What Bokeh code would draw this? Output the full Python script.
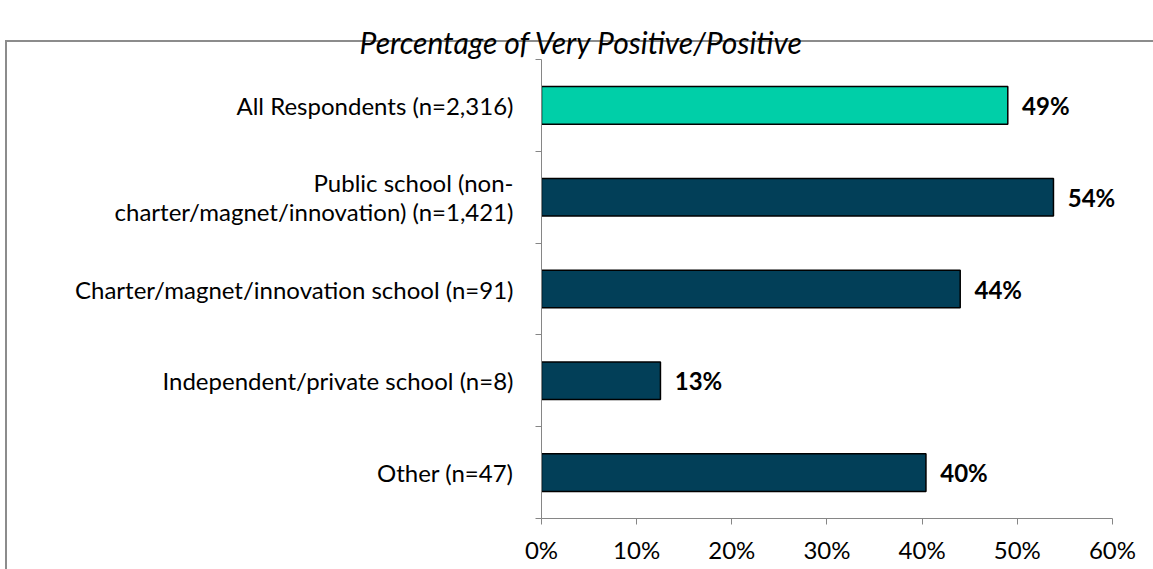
from bokeh.plotting import figure
from bokeh.models import FixedTicker, PrintfTickFormatter, ColumnDataSource, Range1d, Title, LinearAxis
from bokeh.embed import file_html
from bokeh.resources import INLINE
from bokeh.core.properties import value

categories = ["All Respondents (n=2,316)",
              "Public school (non-\ncharter/magnet/innovation) (n=1,421)",
              "Charter/magnet/innovation school (n=91)",
              "Independent/private school (n=8)",
              "Other (n=47)"]
values = [49.0, 53.8, 44.0, 12.5, 40.4]
labels = ["49%", "54%", "44%", "13%", "40%"]
colors = ["#00CFA8", "#023F58", "#023F58", "#023F58", "#023F58"]
x_ticks = [0, 10, 20, 30, 40, 50, 60]
title_text = "Percentage of Very Positive/Positive"

FONT = "Lato"
FS = "24px"
n = len(categories)
ypos = [n - 0.5 - i for i in range(n)]

src = ColumnDataSource(dict(y=ypos, v=values, lab=labels, c=colors, lx=[v + 1.5 for v in values]))

p = figure(width=1153, height=569, output_backend="svg", toolbar_location=None,
           x_range=Range1d(0, 62), y_range=Range1d(0, n),
           min_border_left=541, min_border_right=22, min_border_top=59, min_border_bottom=51)
p.grid.visible = False
p.outline_line_color = None
p.border_fill_color = None
p.background_fill_color = None
# chart-area border (top and left edge; right/bottom lie outside the window)
p.styles = {
    "background": ("linear-gradient(#8c8c8c,#8c8c8c) 5px 40px / 1148px 2px no-repeat, "
                   "linear-gradient(#8c8c8c,#8c8c8c) 5px 40px / 2px 529px no-repeat, white"),
}

# bottom x axis and left y axis (styled before any extra axis is added)
ax = p.below[0]
ax.ticker = FixedTicker(ticks=x_ticks)
ax.bounds = (0, 60)
ax.formatter = PrintfTickFormatter(format="%d%%")
ax.axis_line_color = "#868686"
ax.major_tick_line_color = "#868686"
ax.major_tick_in = 0
ax.major_tick_out = 6
ax.minor_tick_line_color = None
ax.major_label_text_font = FONT
ax.major_label_text_font_size = FS
ax.major_label_text_color = "black"
ax.major_label_standoff = 10

ay = p.left[0]
ay.ticker = FixedTicker(ticks=ypos, minor_ticks=list(range(n + 1)))
ay.major_label_overrides = {y: c for y, c in zip(ypos, categories)}
ay.axis_line_color = "#868686"
ay.major_tick_line_color = None
ay.minor_tick_line_color = "#868686"
ay.minor_tick_in = 0
ay.minor_tick_out = 6
ay.major_label_text_font = FONT
ay.major_label_text_font_size = FS
ay.major_label_text_color = "black"
ay.major_label_text_line_height = 1.0
ay.major_label_standoff = 22

# empty spacer axis above the frame (no ticks, no labels) to lift the title
spacer = LinearAxis(ticker=FixedTicker(ticks=[]), axis_line_color=None,
                    major_tick_line_color=None, minor_tick_line_color=None,
                    major_tick_in=0, major_tick_out=20, minor_tick_in=0, minor_tick_out=0,
                    major_label_standoff=0, major_label_text_font_size="1px",
                    major_label_text_color=None)
p.add_layout(spacer, "above")

ttl = Title(text=title_text, align="left", vertical_align="bottom", offset=-182, standoff=0,
            text_font=FONT, text_font_style="italic", text_font_size="30px",
            text_color="black")
p.add_layout(ttl, "above")

p.hbar(y="y", left=0, right="v", height=0.41, fill_color="c", line_color="black", line_width=1.5, source=src)
p.text(x="lx", y="y", text="lab", text_font=value(FONT), text_font_style="bold", text_font_size=FS,
       text_align="left", text_baseline="middle", text_color="black", source=src)

open("out.html", "w").write(file_html(p, INLINE))
